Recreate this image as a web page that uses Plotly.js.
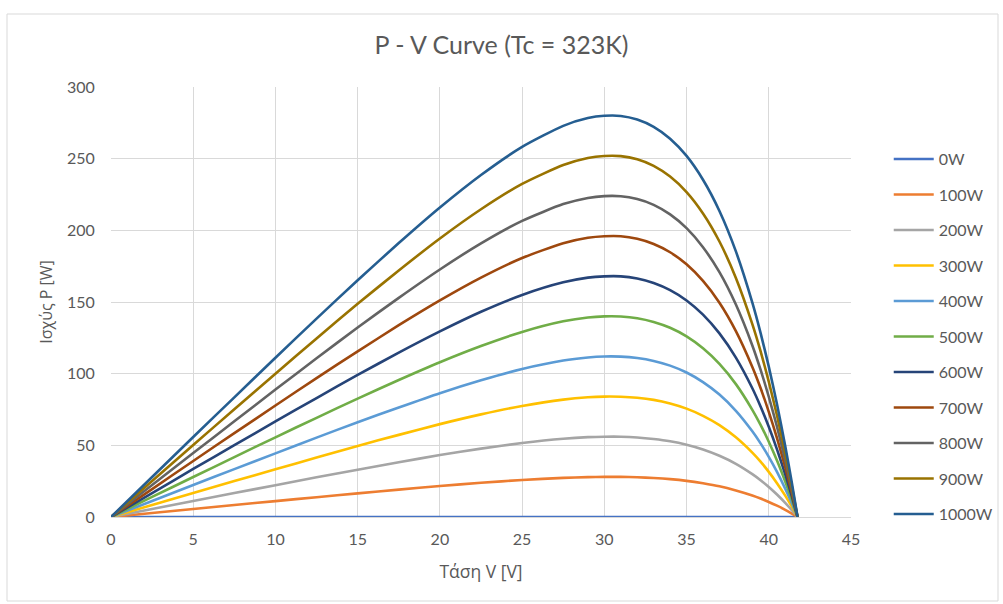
<!DOCTYPE html>
<html>
<head>
<meta charset="utf-8">
<script src="https://cdn.plot.ly/plotly-3.0.1.min.js"></script>
<style>
  html, body { margin: 0; padding: 0; background: #ffffff; }
  #chart { width: 1003px; height: 604px; }
</style>
</head>
<body>
<div id="chart"></div>
<script>
// Voltage samples [V]
var voltage = [0, 2.5, 5, 7.5, 10, 12.5, 15, 17.5, 20, 22.5, 25, 27.5, 29, 30, 31, 32, 33, 34, 35, 36, 37, 38, 39, 39.5, 40, 40.5, 41, 41.4, 41.75];

// Power [W] per irradiance level
var p0W    = [0, 0, 0, 0, 0, 0, 0, 0, 0, 0, 0, 0, 0, 0, 0, 0, 0, 0, 0, 0, 0, 0, 0, 0, 0, 0, 0, 0, 0];
var p100W  = [0, 2.8, 5.6, 8.4, 11.1, 13.8, 16.5, 19.1, 21.6, 23.9, 25.8, 27.3, 27.8, 28.0, 28.0, 27.7, 27.2, 26.4, 25.2, 23.5, 21.4, 18.5, 15.0, 12.9, 10.5, 7.9, 5.0, 2.4, 0];
var p200W  = [0, 5.6, 11.2, 16.7, 22.2, 27.7, 33.0, 38.2, 43.2, 47.7, 51.6, 54.6, 55.7, 56.0, 56.0, 55.5, 54.4, 52.8, 50.4, 47.1, 42.7, 37.1, 29.9, 25.7, 21.0, 15.7, 9.9, 4.8, 0];
var p300W  = [0, 8.4, 16.7, 25.1, 33.3, 41.5, 49.6, 57.3, 64.8, 71.6, 77.5, 81.9, 83.5, 84.0, 83.9, 83.2, 81.7, 79.2, 75.6, 70.6, 64.1, 55.6, 44.9, 38.6, 31.5, 23.6, 14.9, 7.2, 0];
var p400W  = [0, 11.2, 22.3, 33.4, 44.4, 55.4, 66.1, 76.4, 86.4, 95.4, 103.3, 109.2, 111.3, 112.0, 111.9, 110.9, 108.9, 105.6, 100.8, 94.1, 85.4, 74.1, 59.8, 51.4, 42.0, 31.5, 19.8, 9.6, 0];
var p500W  = [0, 14.0, 27.9, 41.8, 55.6, 69.2, 82.6, 95.6, 108.0, 119.3, 129.1, 136.5, 139.2, 140.0, 139.9, 138.7, 136.1, 132.0, 126.0, 117.7, 106.8, 92.7, 74.8, 64.3, 52.5, 39.4, 24.8, 12.1, 0];
var p600W  = [0, 16.7, 33.5, 50.1, 66.7, 83.0, 99.1, 114.7, 129.5, 143.2, 154.9, 163.7, 167.0, 167.9, 167.9, 166.4, 163.3, 158.3, 151.1, 141.2, 128.1, 111.2, 89.8, 77.1, 62.9, 47.2, 29.8, 14.5, 0];
var p700W  = [0, 19.5, 39.1, 58.5, 77.8, 96.9, 115.6, 133.8, 151.1, 167.0, 180.7, 191.0, 194.8, 195.9, 195.9, 194.1, 190.5, 184.7, 176.3, 164.7, 149.5, 129.7, 104.7, 90.0, 73.4, 55.1, 34.7, 16.9, 0];
var p800W  = [0, 22.3, 44.6, 66.8, 88.9, 110.7, 132.2, 152.9, 172.7, 190.9, 206.6, 218.3, 222.6, 223.9, 223.8, 221.8, 217.8, 211.1, 201.5, 188.2, 170.8, 148.2, 119.7, 102.8, 83.9, 63.0, 39.7, 19.3, 0];
var p900W  = [0, 25.1, 50.2, 75.2, 100.0, 124.6, 148.7, 172.0, 194.3, 214.7, 232.4, 245.6, 250.5, 251.9, 251.8, 249.6, 245.0, 237.5, 226.7, 211.8, 192.2, 166.8, 134.6, 115.7, 94.4, 70.8, 44.6, 21.7, 0];
var p1000W = [0, 27.9, 55.8, 83.5, 111.1, 138.4, 165.2, 191.1, 215.9, 238.6, 258.2, 272.9, 278.3, 279.9, 279.8, 277.3, 272.2, 263.9, 251.9, 235.3, 213.5, 185.3, 149.6, 128.5, 104.9, 78.7, 49.6, 24.1, 0];

var seriesNames = ["0W", "100W", "200W", "300W", "400W", "500W", "600W", "700W", "800W", "900W", "1000W"];
var seriesData  = [p0W, p100W, p200W, p300W, p400W, p500W, p600W, p700W, p800W, p900W, p1000W];
var seriesColors = ["#4472C4", "#ED7D31", "#A5A5A5", "#FFC000", "#5B9BD5", "#70AD47", "#264478", "#9E480E", "#636363", "#997300", "#255E91"];

var xTickVals = [0, 5, 10, 15, 20, 25, 30, 35, 40, 45];
var yTickVals = [0, 50, 100, 150, 200, 250, 300];

var traces = seriesNames.map(function (name, i) {
  return {
    x: voltage,
    y: seriesData[i],
    type: "scatter",
    mode: "lines",
    name: name,
    legendgroup: "g" + i,
    line: { color: seriesColors[i], width: 2.6, shape: "spline", smoothing: 0.6 },
    hoverinfo: "x+y+name"
  };
});

var fontFam = "Lato, 'Open Sans', 'Liberation Sans', sans-serif";
var greekFam = "'Open Sans', 'Noto Sans', 'DejaVu Sans', sans-serif";
var layout = {
  width: 1003,
  height: 604,
  paper_bgcolor: "#ffffff",
  plot_bgcolor: "#ffffff",
  margin: { l: 111, r: 152, t: 87, b: 87, autoexpand: false },
  font: { family: fontFam, color: "#595959", size: 16 },
  title: {
    text: "P - V Curve (Tc = 323K)",
    font: { family: fontFam, size: 25, color: "#595959" },
    x: 0.5, xref: "container", xanchor: "center",
    y: 1 - 45 / 604, yref: "container", yanchor: "middle"
  },
  xaxis: {
    range: [0, 45],
    tickvals: xTickVals,
    ticktext: xTickVals.map(String),
    showgrid: true,
    gridcolor: "#d9d9d9",
    gridwidth: 1,
    zeroline: false,
    showline: true,
    linecolor: "#d9d9d9",
    linewidth: 1,
    ticks: "outside",
    ticklen: 8,
    tickcolor: "rgba(0,0,0,0)",
    tickfont: { family: fontFam, size: 16, color: "#595959" },
    title: { text: "Τάση V [V]", font: { family: greekFam, size: 17.5, color: "#595959" }, standoff: 18 },
    fixedrange: true
  },
  yaxis: {
    range: [0, 300],
    tickvals: yTickVals,
    ticktext: yTickVals.map(String),
    showgrid: true,
    gridcolor: "#d9d9d9",
    gridwidth: 1,
    zeroline: false,
    showline: false,
    ticks: "outside",
    ticklen: 12,
    tickcolor: "rgba(0,0,0,0)",
    tickfont: { family: fontFam, size: 16, color: "#595959" },
    title: { text: "Ισχύς P [W]", font: { family: greekFam, size: 16, color: "#595959" }, standoff: 10 },
    fixedrange: true
  },
  showlegend: true,
  legend: {
    x: 1.051, xanchor: "left",
    y: 0.872, yanchor: "top",
    font: { family: fontFam, size: 16, color: "#595959" },
    itemwidth: 40,
    tracegroupgap: 11.7,
    bgcolor: "rgba(0,0,0,0)",
    traceorder: "grouped"
  },
  shapes: [
    {
      type: "rect", xref: "paper", yref: "paper",
      x0: (7 - 111) / 740, x1: (998 - 111) / 740,
      y0: (517 - 601) / 430, y1: (517 - 14) / 430,
      line: { color: "#d9d9d9", width: 1 },
      fillcolor: "rgba(0,0,0,0)",
      layer: "below"
    }
  ]
};

Plotly.newPlot("chart", traces, layout, { displayModeBar: false, staticPlot: true });
</script>
</body>
</html>
